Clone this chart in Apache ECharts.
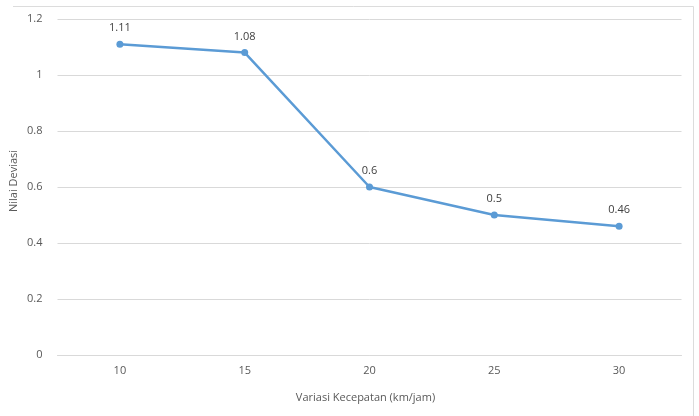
<!DOCTYPE html>
<html>
<head>
<meta charset="utf-8">
<script src="https://cdn.jsdelivr.net/npm/echarts@6/dist/echarts.min.js"></script>
<style>
  html, body { margin: 0; padding: 0; background: #fff; }
  #chart { width: 699px; height: 416px; }
</style>
</head>
<body>
<div id="chart"></div>
<script>
// Speed variation (km/jam) and the resulting deviation value
const speeds = ['10', '15', '20', '25', '30'];
const deviasi = [1.11, 1.08, 0.6, 0.5, 0.46];
const yTicks = { min: 0, max: 1.2, interval: 0.2 };

const FONT = '"Open Sans", "Liberation Sans", sans-serif';
const TEXT = '#595959';

const chart = echarts.init(document.getElementById('chart'), null, { renderer: 'canvas' });

chart.setOption({
  animation: false,
  backgroundColor: '#ffffff',
  grid: {
    left: 57.5, right: 17.5, top: 19, bottom: 61,
    containLabel: false, outerBoundsMode: 'none'
  },
  xAxis: {
    type: 'category',
    data: speeds,
    boundaryGap: true,
    name: 'Variasi Kecepatan (km/jam)',
    nameLocation: 'middle',
    nameGap: 37,
    nameTextStyle: { color: TEXT, fontFamily: FONT, fontSize: 11, padding: [0, 8, 0, 0] },
    axisLine: { show: true, lineStyle: { color: '#d9d9d9', width: 1 } },
    axisTick: { show: false },
    axisLabel: { color: TEXT, fontFamily: FONT, fontSize: 11, margin: 10 }
  },
  yAxis: {
    type: 'value',
    min: yTicks.min,
    max: yTicks.max,
    interval: yTicks.interval,
    name: 'Nilai Deviasi',
    nameLocation: 'middle',
    nameGap: 38,
    nameMoveOverlap: false,
    nameRotate: 90,
    nameTextStyle: { color: TEXT, fontFamily: FONT, fontSize: 11, padding: [0, 0, 0, 12] },
    axisLine: { show: false },
    axisTick: { show: false },
    axisLabel: {
      color: TEXT, fontFamily: FONT, fontSize: 11, margin: 15,
      formatter: v => String(Math.round(v * 10) / 10)
    },
    splitLine: { lineStyle: { color: '#d9d9d9', width: 1 } }
  },
  series: [{
    type: 'line',
    data: deviasi,
    symbol: 'circle',
    symbolSize: 7,
    lineStyle: { color: '#5b9bd5', width: 2.5 },
    itemStyle: { color: '#5b9bd5' },
    label: {
      show: true,
      position: 'top',
      distance: 7,
      color: '#404040',
      fontFamily: FONT,
      fontSize: 11
    }
  }],
  graphic: [
    // light chart-area frame along the top and right edges
    { type: 'line', shape: { x1: 13, y1: 6.5, x2: 693.5, y2: 6.5 },
      style: { stroke: '#dcdcdc', lineWidth: 1 }, silent: true },
    { type: 'line', shape: { x1: 693.5, y1: 6.5, x2: 693.5, y2: 416 },
      style: { stroke: '#dcdcdc', lineWidth: 1 }, silent: true }
  ]
});
</script>
</body>
</html>
